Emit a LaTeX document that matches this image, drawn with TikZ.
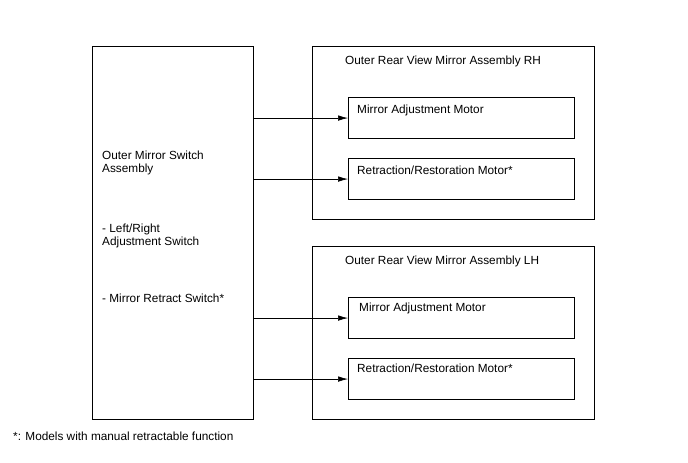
\documentclass[tikz,border=0pt]{standalone}
\usepackage{fontspec}
\setmainfont{Liberation Sans}
\usetikzlibrary{positioning,arrows.meta}

\begin{document}
\begin{tikzpicture}[x=1pt,y=-1pt,
  box/.style={draw,line width=1.1pt,anchor=north west,inner sep=0pt},
  motor/.style={box,minimum width=226pt,minimum height=41pt},
  txt/.style={anchor=base west,inner sep=0pt,font=\fontsize{11.8}{13}\selectfont,align=left},
  sig/.style={line width=0.6pt,-{Latex[length=10pt,width=5.5pt]}}]
\useasboundingbox (0,0) rectangle (688,463);
% switch on the left
\node[box,minimum width=161pt,minimum height=373pt] (sw) at (92,46) {};
\node[txt] (swname) at (102,172) {Outer Mirror Switch\\Assembly};
\node[txt] (swlr) at (102,245) {- Left/Right\\Adjustment Switch};
\node[txt] (swret) at (102,302) {- Mirror Retract Switch*};
% mirror RH
\node[box,minimum width=282pt,minimum height=173pt] (rh) at (312,46) {};
\node[txt] (rhname) at (345,64) {Outer Rear View Mirror Assembly RH};
\node[motor] (rhadj) at (348,97) {};
\node[motor] (rhret) at (348,158) {};
\node[txt,below right=16pt and 9pt of rhadj.north west,anchor=base west] (rhadjt) {Mirror Adjustment Motor};
\node[txt,below right=16pt and 9pt of rhret.north west,anchor=base west] (rhrett) {Retraction/Restoration Motor*};
% mirror LH
\node[box,minimum width=282pt,minimum height=173pt] (lh) at (312,246) {};
\node[txt] (lhname) at (345,264) {Outer Rear View Mirror Assembly LH};
\node[motor] (lhadj) at (348,297) {};
\node[motor] (lhret) at (348,358) {};
\node[txt,below right=14pt and 11pt of lhadj.north west,anchor=base west] (lhadjt) {Mirror Adjustment Motor};
\node[txt,below right=14pt and 9pt of lhret.north west,anchor=base west] (lhrett) {Retraction/Restoration Motor*};
% connectors
\draw[sig] (sw.east |- rhadj.west) -- (rhadj.west);
\draw[sig] (sw.east |- rhret.west) -- (rhret.west);
\draw[sig] (sw.east |- lhadj.west) -- (lhadj.west);
\draw[sig] (sw.east |- lhret.west) -- (lhret.west);
\node[txt] (note) at (13,440) {*: Models with manual retractable function};
\end{tikzpicture}
\end{document}
